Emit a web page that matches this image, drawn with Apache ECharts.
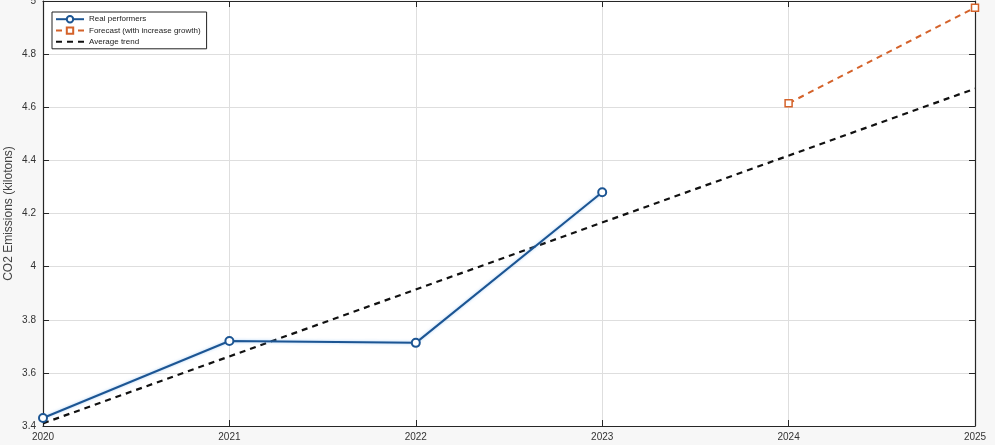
<!DOCTYPE html>
<html>
<head>
<meta charset="utf-8">
<script src="https://cdn.jsdelivr.net/npm/echarts@6/dist/echarts.min.js"></script>
<style>
  html, body { margin: 0; padding: 0; background: #f7f7f7; }
  #chart { width: 995px; height: 445px; }
</style>
</head>
<body>
<div id="chart"></div>
<script>
// data
const realYears = [2020, 2021, 2022, 2023]
const realValues = [3.43, 3.72, 3.713, 4.28]
const forecastYears = [2024, 2025]
const forecastValues = [4.615, 4.975]
const trendYears = [2020, 2025]
const trendValues = [3.41, 4.67]

const pairs = (xs, ys) => xs.map((x, i) => [x, ys[i]])

const chart = echarts.init(document.getElementById('chart'))
const font = "'Liberation Sans', Arial, sans-serif"

const boxAxis = {
  min: 2020, max: 2025, interval: 1,
  axisLine: { show: true, lineStyle: { color: '#262626', width: 1.2 } },
  axisTick: { show: true, inside: true, length: 6, lineStyle: { color: '#262626' } },
}

chart.setOption({
  backgroundColor: '#f7f7f7',
  animation: false,
  grid: {
    left: 43, right: 20, top: 1, bottom: 19,
    outerBoundsMode: 'none', containLabel: false,
    backgroundColor: '#fff', show: true, borderWidth: 0
  },
  legend: {
    orient: 'vertical',
    left: 52, top: 12,
    padding: [3, 6, 3, 3],
    itemGap: 3,
    itemWidth: 28, itemHeight: 8,
    backgroundColor: '#fff',
    borderColor: '#222',
    borderWidth: 1,
    textStyle: { fontSize: 8, color: '#222', fontFamily: font },
    data: ['Real performers', 'Forecast (with increase growth)', 'Average trend']
  },
  xAxis: [
    {
      ...boxAxis,
      type: 'value', position: 'bottom',
      axisLabel: { color: '#333', fontSize: 10, fontFamily: font, margin: 6, formatter: v => String(v) },
      splitLine: { show: true, lineStyle: { color: '#dedede' } },
    },
    {
      ...boxAxis,
      type: 'value', position: 'top',
      axisLabel: { show: false },
      splitLine: { show: false },
    }
  ],
  yAxis: [
    {
      ...boxAxis,
      type: 'value', position: 'left',
      min: 3.4, max: 5, interval: 0.2,
      name: 'CO2 Emissions (kilotons)',
      nameLocation: 'middle',
      nameMoveOverlap: false,
      nameGap: 28,
      nameTextStyle: { color: '#444', fontSize: 12, fontFamily: font },
      axisLabel: { color: '#333', fontSize: 10, fontFamily: font, margin: 7 },
      splitLine: { show: true, lineStyle: { color: '#dedede' } },
    },
    {
      ...boxAxis,
      type: 'value', position: 'right',
      min: 3.4, max: 5, interval: 0.2,
      axisLabel: { show: false },
      splitLine: { show: false },
    }
  ],
  series: [
    {
      name: 'Real performers',
      type: 'line',
      data: pairs(realYears, realValues),
      symbol: 'circle', symbolSize: 8, showSymbol: true,
      lineStyle: { color: '#1c5593', width: 2, shadowColor: 'rgba(120,180,240,0.6)', shadowBlur: 3 },
      itemStyle: { color: '#fff', borderColor: '#1c5593', borderWidth: 2 },
      z: 3
    },
    {
      name: 'Forecast (with increase growth)',
      type: 'line',
      data: pairs(forecastYears, forecastValues),
      symbol: 'rect', symbolSize: 7,
      lineStyle: { color: '#d4622a', width: 2, type: [6, 5] },
      itemStyle: { color: '#fff', borderColor: '#d4622a', borderWidth: 1.5 },
      z: 3
    },
    {
      name: 'Average trend',
      type: 'line',
      data: pairs(trendYears, trendValues),
      symbol: 'none',
      lineStyle: { color: '#111', width: 2.2, type: [6, 5] },
      itemStyle: { color: 'transparent' },
      z: 2
    }
  ]
})
</script>
</body>
</html>
